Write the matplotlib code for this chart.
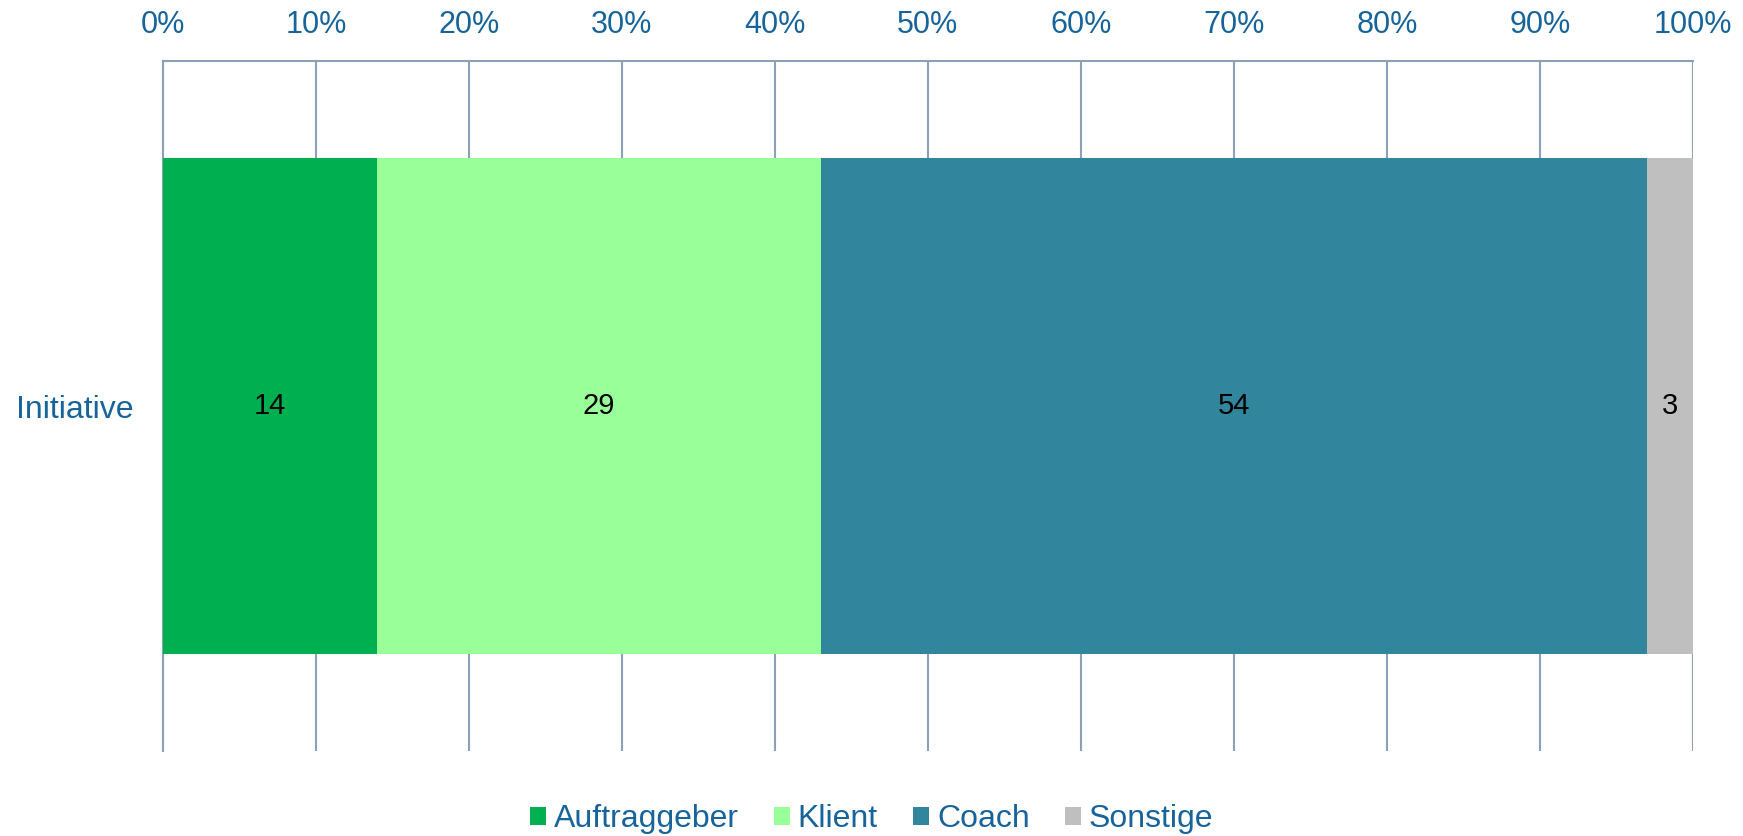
import matplotlib
matplotlib.use("Agg")
import matplotlib.pyplot as plt
from matplotlib.patches import Patch
from matplotlib.ticker import FuncFormatter

plt.rcParams['font.family'] = ['Liberation Sans', 'DejaVu Sans']

categories = ["Initiative"]
series_names = ["Auftraggeber", "Klient", "Coach", "Sonstige"]
series_values = [[14], [29], [54], [3]]
colors = ["#00B050", "#99FF99", "#31859C", "#BFBFBF"]
x_ticks = [0, 10, 20, 30, 40, 50, 60, 70, 80, 90, 100]

text_color = "#17649A"
grid_color = "#8EA0B8"

fig = plt.figure(figsize=(17.43, 8.36), dpi=100)
ax = fig.add_axes([0.0934, 0.1017, 0.9713 - 0.0934, 0.927 - 0.1017])

left = [0] * len(categories)
for name, vals, c in zip(series_names, series_values, colors):
    bars = ax.barh(range(len(categories)), vals, left=left, height=0.72,
                   color=c, label=name, zorder=3)
    for b, v in zip(bars, vals):
        ax.text(b.get_x() + b.get_width() / 2, b.get_y() + b.get_height() / 2,
                str(v), ha='center', va='center', fontsize=21, color='black', zorder=4)
    left = [l + v for l, v in zip(left, vals)]

ax.set_xlim(0, 100)
ax.set_ylim(-0.5, 0.5)
ax.set_xticks(x_ticks)
ax.xaxis.set_major_formatter(FuncFormatter(lambda v, p: f"{int(v)}%"))
ax.xaxis.tick_top()
ax.set_yticks(range(len(categories)))
ax.set_yticklabels(categories)
ax.tick_params(axis='x', length=0, pad=15, labelsize=22, labelcolor=text_color)
ax.tick_params(axis='y', length=0, pad=21, labelsize=23, labelcolor=text_color)
ax.grid(axis='x', color=grid_color, linewidth=1.5, zorder=1)
ax.set_axisbelow(True)
for s in ['bottom', 'right']:
    ax.spines[s].set_visible(False)
for s in ['left', 'top']:
    ax.spines[s].set_color(grid_color)
    ax.spines[s].set_linewidth(1.5)

handles = [Patch(facecolor=c, edgecolor='none') for c in colors]
fig.legend(handles, series_names, loc='center', bbox_to_anchor=(0.5, 1 - 819 / 836),
           ncol=4, frameon=False, fontsize=23, labelcolor=text_color,
           handlelength=0.5, handleheight=0.5, handletextpad=0.25,
           columnspacing=1.1, borderaxespad=0)

fig.savefig("out.png", dpi=100)
